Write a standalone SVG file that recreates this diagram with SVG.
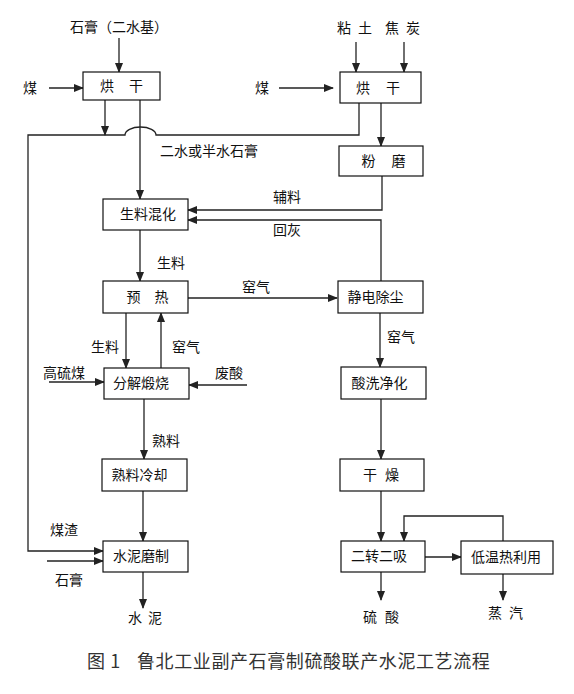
<svg xmlns="http://www.w3.org/2000/svg" width="574" height="694" viewBox="0 0 574 694">
<style>
text{font-family:"Noto Sans CJK SC","Noto Sans",sans-serif;font-size:14px;fill:#111}
.box rect{fill:#fff;stroke:#111;stroke-width:1.2}
.c{text-anchor:middle}
#connectors path{fill:none;stroke:#222;stroke-width:1.3}
.cap{font-size:18px;fill:#333;letter-spacing:0.6px}
</style>
<defs>
<marker id="ah" markerUnits="userSpaceOnUse" markerWidth="10" markerHeight="8" refX="9" refY="4" orient="auto">
<path d="M0,0 L10,4 L0,8 Z" fill="#222"/>
</marker>
</defs>
<rect width="574" height="694" fill="#fff"/>
<g id="connectors">
<path d="M119 38 V72" marker-end="url(#ah)"/>
<path d="M49 88 H83" marker-end="url(#ah)"/>
<path d="M105 100 V135" marker-end="url(#ah)"/>
<path d="M140 100 V199" marker-end="url(#ah)"/>
<path d="M359 103 V135 H156 A15.5 8 0 0 0 125 135 H28 V551 H103" marker-end="url(#ah)"/>
<path d="M356 42 V72" marker-end="url(#ah)"/>
<path d="M404 42 V72" marker-end="url(#ah)"/>
<path d="M279 88 H333" marker-end="url(#ah)"/>
<path d="M381 103 V146" marker-end="url(#ah)"/>
<path d="M382 176 V210 H188" marker-end="url(#ah)"/>
<path d="M381 281 V220 H188" marker-end="url(#ah)"/>
<path d="M140 230 V281" marker-end="url(#ah)"/>
<path d="M188 298 H337" marker-end="url(#ah)"/>
<path d="M126 313 V368" marker-end="url(#ah)"/>
<path d="M161 368 V313" marker-end="url(#ah)"/>
<path d="M49 382 H104" marker-end="url(#ah)"/>
<path d="M247 385 H189" marker-end="url(#ah)"/>
<path d="M144 399 V459" marker-end="url(#ah)"/>
<path d="M143 491 V541" marker-end="url(#ah)"/>
<path d="M47 561 H103" marker-end="url(#ah)"/>
<path d="M143 572 V608" marker-end="url(#ah)"/>
<path d="M380 313 V367" marker-end="url(#ah)"/>
<path d="M381 399 V459" marker-end="url(#ah)"/>
<path d="M381 491 V541" marker-end="url(#ah)"/>
<path d="M425 557 H461" marker-end="url(#ah)"/>
<path d="M503 541 V516 H404 V541" marker-end="url(#ah)"/>
<path d="M381 572 V600" marker-end="url(#ah)"/>
<path d="M503 574 V600" marker-end="url(#ah)"/>
</g>
<g id="dryL" class="box"><rect x="83" y="72" width="77" height="28"/><text x="107 136" y="91" class="c">烘干</text></g>
<g id="dryR" class="box"><rect x="340" y="72" width="81" height="31"/><text x="363 393" y="93" class="c">烘干</text></g>
<g id="grind" class="box"><rect x="339" y="146" width="84" height="30"/><text x="368.5 398.5" y="166" class="c">粉磨</text></g>
<g id="mix" class="box"><rect x="103" y="199" width="85" height="31"/><text x="148" y="219" class="c">生料混化</text></g>
<g id="preheat" class="box"><rect x="103" y="281" width="85" height="32"/><text x="133.5 161.5" y="302" class="c">预热</text></g>
<g id="esp" class="box"><rect x="338" y="281" width="85" height="32"/><text x="375.5" y="302" class="c">静电除尘</text></g>
<g id="calcine" class="box"><rect x="104" y="368" width="85" height="31"/><text x="141" y="388" class="c">分解煅烧</text></g>
<g id="wash" class="box"><rect x="341" y="367" width="85" height="32"/><text x="379.5" y="388" class="c">酸洗净化</text></g>
<g id="cool" class="box"><rect x="102" y="459" width="85" height="32"/><text x="139.5" y="480" class="c">熟料冷却</text></g>
<g id="dry2" class="box"><rect x="340" y="459" width="84" height="32"/><text x="370 392" y="480" class="c">干燥</text></g>
<g id="cementmill" class="box"><rect x="103" y="541" width="85" height="31"/><text x="141" y="561" class="c">水泥磨制</text></g>
<g id="convert" class="box"><rect x="341" y="541" width="84" height="31"/><text x="379" y="561" class="c">二转二吸</text></g>
<g id="heat" class="box"><rect x="461" y="541" width="92" height="33"/><text x="506" y="562" class="c">低温热利用</text></g>
<g id="labels">
<text x="119" y="32" class="c">石膏（二水基）</text>
<text x="23" y="93">煤</text>
<text x="255" y="93">煤</text>
<text x="344 365" y="33" class="c">粘土</text>
<text x="392 413" y="33" class="c">焦炭</text>
<text x="160" y="156">二水或半水石膏</text>
<text x="273" y="202">辅料</text>
<text x="273" y="235">回灰</text>
<text x="157" y="268">生料</text>
<text x="242" y="292">窑气</text>
<text x="91" y="352">生料</text>
<text x="172" y="352">窑气</text>
<text x="43" y="378">高硫煤</text>
<text x="215" y="378">废酸</text>
<text x="152" y="446">熟料</text>
<text x="387" y="342">窑气</text>
<text x="50" y="535">煤渣</text>
<text x="55" y="585">石膏</text>
<text x="135 155" y="623" class="c">水泥</text>
<text x="370 392" y="622" class="c">硫酸</text>
<text x="495 516" y="618" class="c">蒸汽</text>
<text x="87" y="668" class="cap">图 1</text>
<text x="137" y="668" class="cap">鲁北工业副产石膏制硫酸联产水泥工艺流程</text>
</g>
</svg>
